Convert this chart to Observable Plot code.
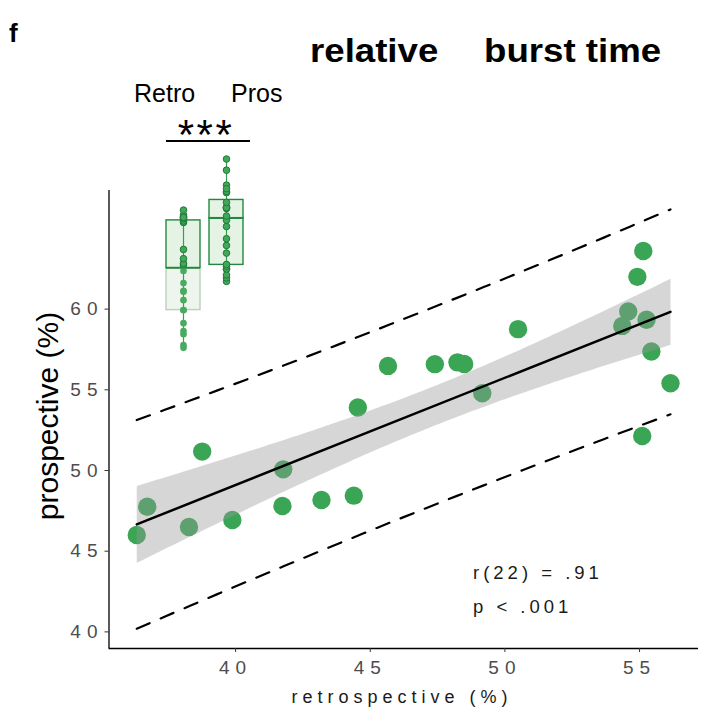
<!DOCTYPE html>
<html><head><meta charset="utf-8">
<script src="https://cdn.jsdelivr.net/npm/d3@7"></script>
<script src="https://cdn.jsdelivr.net/npm/@observablehq/plot@0.6"></script>
<style>
body{margin:0;background:#fff;}
#wrap{position:relative;width:702px;height:714px;overflow:hidden;font-family:"Liberation Sans",Arial,sans-serif;color:#000;}
.abs{position:absolute;white-space:pre;line-height:1;}
#main{position:absolute;left:0;top:0;}
#inset{position:absolute;left:150px;top:150px;}
#main g[aria-label="x-axis tick label"] text,
#main g[aria-label="y-axis tick label"] text{letter-spacing:6px;fill:#4d4d4d;}
</style></head><body>
<div id="wrap">
  <div id="main"></div>
  <div id="inset"></div>
</div>
<script>
// ---- data ----
const retro = [36.44, 36.83, 38.38, 38.87, 39.99, 41.88, 41.85, 43.3, 44.5, 44.65, 45.77, 47.51,
               48.35, 48.6, 49.27, 50.6, 54.47, 54.69, 55.37, 55.03, 55.25, 55.55, 56.26, 55.21];
const pros  = [46.0, 47.75, 46.5, 51.17, 46.93, 50.07, 47.8, 48.17, 48.44, 53.9, 56.48, 56.59,
               56.7, 56.6, 54.79, 58.76, 58.96, 59.85, 59.34, 62.0, 63.6, 57.37, 55.41, 52.14];
const xTicks = [40, 45, 50, 55];
const yTicks = [40, 45, 50, 55, 60];
const groups = ["Retro", "Pros"];
const statText = ["r(22) = .91", "p < .001"];

const data = retro.map((x, i) => ({x, y: pros[i]}));

// prediction interval (95%) from the linear fit
const n = data.length;
const mx = d3.mean(retro), my = d3.mean(pros);
const sxx = d3.sum(retro, v => (v - mx) ** 2);
const sxy = d3.sum(data, d => (d.x - mx) * (d.y - my));
const b = sxy / sxx, a = my - b * mx;
const s = Math.sqrt(d3.sum(data, d => (d.y - a - b * d.x) ** 2) / (n - 2));
const tq = 2.0739; // t(0.975, 22)
const [xa, xb] = d3.extent(retro);
const grid = d3.range(0, 41).map(i => xa + (xb - xa) * i / 40);
const pi = grid.map(x => {
  const h = tq * s * Math.sqrt(1 + 1 / n + (x - mx) ** 2 / sxx);
  const f = a + b * x;
  return {x, lo: f - h, hi: f + h};
});

const xDom = [35.41, 57.3], yDom = [38.97, 67.35];

const main = Plot.plot({
  width: 702, height: 714,
  marginLeft: 108.5, marginRight: 4, marginTop: 190, marginBottom: 66,
  x: {domain: xDom},
  y: {domain: yDom},
  style: {fontFamily: "Liberation Sans, Arial, sans-serif", background: "transparent", overflow: "visible"},
  marks: [
    Plot.dot(data, {x: "x", y: "y", r: 9.2, fill: "#3aa655"}),
    Plot.linearRegressionY(data, {x: "x", y: "y", ci: 0.95, stroke: "#000", strokeWidth: 2.5, fill: "#999", fillOpacity: 0.4}),
    Plot.line(pi, {x: "x", y: "hi", stroke: "#000", strokeWidth: 2.2, strokeDasharray: "14,12"}),
    Plot.line(pi, {x: "x", y: "lo", stroke: "#000", strokeWidth: 2.2, strokeDasharray: "14,12"}),
    Plot.ruleX([xDom[0]], {stroke: "#000", strokeWidth: 1.3}),
    Plot.ruleY([yDom[0]], {stroke: "#000", strokeWidth: 1.3}),
    Plot.axisX({ticks: xTicks, tickSize: 4, tickPadding: 8, fontSize: 19, dx: 3, stroke: "#333", label: null}),
    Plot.axisY({ticks: yTicks, tickSize: 4, tickPadding: 1.5, fontSize: 19, stroke: "#333", label: null})
  ]
});
document.getElementById("main").appendChild(main);

// ---- inset boxplot ----
function stats(g, vals) {
  const v = vals.slice().sort(d3.ascending);
  return {g, min: v[0], max: v[v.length - 1], q1: d3.quantile(v, 0.25), med: d3.quantile(v, 0.5), q3: d3.quantile(v, 0.75)};
}
const st = [stats("Retro", retro), stats("Pros", pros)];
const parts = st.flatMap(d => [
  {g: d.g, part: "lower", y1: d.q1, y2: d.med},
  {g: d.g, part: "upper", y1: d.med, y2: d.q3}
]);
const medOf = Object.fromEntries(st.map(d => [d.g, d.med]));
const long = [...retro.map(v => ({g: "Retro", v})), ...pros.map(v => ({g: "Pros", v}))];
const pale = d => d.g === "Retro" && (d.part ? d.part === "lower" : d.v < medOf.Retro);

const inset = Plot.plot({
  width: 110, height: 210,
  marginLeft: 0, marginRight: 0, marginTop: 0, marginBottom: 0,
  x: {type: "band", domain: groups, range: [16, 93.3], paddingInner: 0.215, paddingOuter: 0, axis: null},
  y: {domain: [34.62, 64.83], axis: null},
  style: {background: "transparent", overflow: "visible"},
  marks: [
    Plot.barY(parts, {x: "g", y1: "y1", y2: "y2",
      fill: d => pale(d) ? "#edf5ed" : "#e4f3e4",
      stroke: d => pale(d) ? "#b9d2bd" : "#23883f", strokeWidth: 1.4}),
    Plot.ruleX(st, {x: "g", y1: "min", y2: "max", stroke: "#35a050", strokeWidth: 1.2}),
    Plot.tickY(st, {x: "g", y: "med", stroke: "#23883f", strokeWidth: 1.5}),
    Plot.dot(long, {x: "g", y: "v", r: 3.3,
      fill: d => pale(d) ? "#49aa62" : "#43a75a",
      stroke: d => pale(d) ? "none" : "#1f7a38", strokeWidth: 1})
  ]
});
document.getElementById("inset").appendChild(inset);

// ---- text annotations ----
const wrap = document.getElementById("wrap");
function addText(txt, css) {
  const el = document.createElement("div");
  el.className = "abs";
  el.textContent = txt;
  Object.assign(el.style, css);
  wrap.appendChild(el);
  return el;
}
addText("f", {left: "9px", top: "20px", fontSize: "26px", fontWeight: "bold"});
addText("relative", {left: "310px", top: "34px", fontSize: "33px", fontWeight: "bold", transform: "scaleX(1.11)", transformOrigin: "left"});
addText("burst time", {left: "484px", top: "34px", fontSize: "33px", fontWeight: "bold", transform: "scaleX(1.11)", transformOrigin: "left"});
addText(groups[0], {left: "134px", top: "81px", fontSize: "25px"});
addText(groups[1], {left: "231px", top: "81px", fontSize: "25px"});
addText("***", {left: "206px", top: "114px", fontSize: "42px", letterSpacing: "2.5px", transform: "translateX(-50%)"});
const br = document.createElement("div");
Object.assign(br.style, {position: "absolute", left: "166px", top: "140px", width: "84px", height: "0", borderTop: "2px solid #000"});
wrap.appendChild(br);
addText(statText[0], {left: "473px", top: "564px", fontSize: "18.5px", letterSpacing: "4px", color: "#1a1a1a"});
addText(statText[1], {left: "473px", top: "598px", fontSize: "18.5px", letterSpacing: "4px", color: "#1a1a1a"});
addText("retrospective (%)", {left: "402px", top: "688px", fontSize: "18px", letterSpacing: "5px", transform: "translateX(-50%)", color: "#1a1a1a"});
addText("prospective (%)", {left: "48px", top: "416px", fontSize: "30px", transform: "translate(-50%,-50%) rotate(-90deg)", color: "#000"});
</script>
</body></html>
